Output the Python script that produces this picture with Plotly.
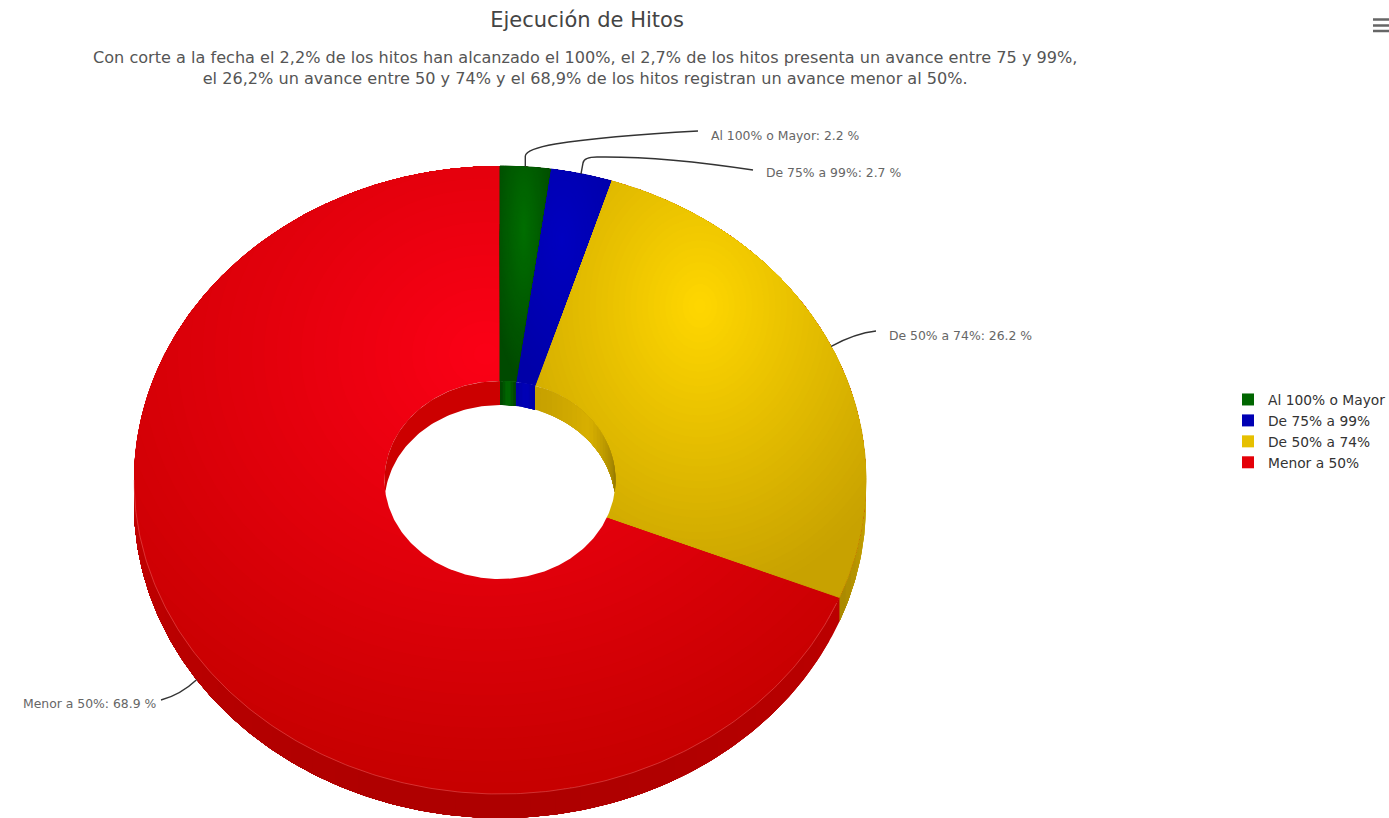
#!/usr/bin/env python3
# -*- coding: utf-8 -*-
"""Ejecucion de Hitos - 3D style donut built from elliptical polygons"""

import numpy as np
import plotly.graph_objects as go

# Data
categories = ["Al 100% o Mayor", "De 75% a 99%", "De 50% a 74%", "Menor a 50%"]
values = [2.2, 2.7, 26.2, 68.9]

title_text = "Ejecución de Hitos"
subtitle_text = (
    "Con corte a la fecha el 2,2% de los hitos han alcanzado el 100%, el 2,7% de los hitos "
    "presenta un avance entre 75 y 99%,<br>el 26,2% un avance entre 50 y 74% y el 68,9% de "
    "los hitos registran un avance menor al 50%."
)

# Colours per slice: gradient start, gradient end, legend swatch
grad_start = ["#006e00", "#0000c0", "#ffd700", "#fb0016"]
grad_end = ["#004a00", "#0000a8", "#c8a200", "#c60000"]
legend_colors = ["#006600", "#0000b4", "#e6c000", "#e40008"]

# Geometry of the donut on the pixel axes
CX, CY = 500.0, 480.0
RX, RY = 366.0, 314.0
HOLE_RX, HOLE_RY = 115.5, 99.0
DEPTH = 24.0
LEVELS = 40

# Where each connector label sits
label_pos = [(709, 135, "left"), (764, 172, "left"), (887, 335, "left"), (158, 703, "right")]


def hex_mix(c0, c1, t):
    a = [int(c0[i:i + 2], 16) for i in (1, 3, 5)]
    b = [int(c1[i:i + 2], 16) for i in (1, 3, 5)]
    return "rgb(%d,%d,%d)" % tuple(round(p + (q - p) * t) for p, q in zip(a, b))


def on_ellipse(theta, rx, ry, dy=0.0):
    # theta is clockwise from 12 o'clock
    return CX + rx * np.sin(theta), CY - ry * np.cos(theta) + dy


def add_poly(fig, x, y, color, width=0.0):
    fig.add_trace(go.Scatter(
        x=x, y=y, mode="lines", fill="toself", fillcolor=color,
        line=dict(width=width, color=color), hoverinfo="skip", showlegend=False
    ))


def radial_layers(fig, px, py, hx, hy, gx, gy, c0, c1, edge=0.0):
    # Contours of an elliptical gradient clipped to a shape that is star shaped around (hx, hy)
    ang = np.arctan2(py - hy, px - hx)
    dist = np.hypot(px - hx, py - hy)
    order = np.argsort(ang)
    phi = np.linspace(-np.pi, np.pi, 721)
    bound = np.interp(phi, ang[order], dist[order], period=2 * np.pi)
    unit = np.sqrt((np.cos(phi) / gx) ** 2 + (np.sin(phi) / gy) ** 2)
    add_poly(fig, px, py, hex_mix(c0, c1, 1.0), width=edge)
    for k in range(LEVELS, 0, -1):
        t = k / LEVELS
        r = np.minimum(t / unit, bound)
        add_poly(fig, hx + r * np.cos(phi), hy + r * np.sin(phi), hex_mix(c0, c1, (k - 0.5) / LEVELS))


def slice_outline(a0, a1):
    # Pie wedge with dense samples along all edges, so it can be read in polar form
    th = np.linspace(a0, a1, max(int((a1 - a0) * 90), 12))
    ox, oy = on_ellipse(th, RX, RY)
    s = np.linspace(0, 1, 60)
    rx1, ry1 = CX + (ox[-1] - CX) * (1 - s), CY + (oy[-1] - CY) * (1 - s)
    rx0, ry0 = CX + (ox[0] - CX) * s, CY + (oy[0] - CY) * s
    return np.concatenate([rx0, ox, rx1]), np.concatenate([ry0, oy, ry1])


def outer_segment(a0, a1, color):
    t = np.linspace(a0, a1, max(int((a1 - a0) * 120), 12))
    x, y = on_ellipse(t, RX, RY)
    add_poly(fig, np.r_[x, x[::-1]], np.r_[y, y[::-1] + DEPTH], color)


def inner_segment(a0, a1, color):
    t = np.linspace(a0, a1, 60)
    x, y = on_ellipse(t, HOLE_RX, HOLE_RY)
    low = CY + HOLE_RY * np.sqrt(np.clip(1 - ((x - CX) / HOLE_RX) ** 2, 0, 1))
    y2 = np.minimum(y + DEPTH, low)
    add_poly(fig, np.r_[x, x[::-1]], np.r_[y, y2[::-1]], color)


fractions = np.array(values) / sum(values)
edges = np.concatenate([[0.0], np.cumsum(fractions)]) * 2 * np.pi
mids = (edges[:-1] + edges[1:]) / 2

fig = go.Figure()

# Outer wall, only the part that faces the viewer. Every band runs on to the end of its
# slice and the next one paints over it, that way no seams show between the bands
yellow_steps = np.linspace(np.pi / 2, edges[3], 9)
for k in range(8):
    outer_segment(yellow_steps[k], edges[3], hex_mix("#c9a500", "#ab8a00", k / 7))

red_steps = np.linspace(edges[3], 3 * np.pi / 2, 41)
for k in range(40):
    mid = (red_steps[k] + red_steps[k + 1]) / 2
    shade = abs(np.cos(mid))  # darkest where the wall faces straight down
    outer_segment(red_steps[k], 3 * np.pi / 2, hex_mix("#c40000", "#ae0000", shade))

# Top surface. Red first because the whole ellipse can be used: the other slices sit over it
th = np.linspace(0, 2 * np.pi, 720, endpoint=False)
ex, ey = on_ellipse(th, RX, RY)
radial_layers(fig, ex, ey, 486, 354, 493, 440, grad_start[3], grad_end[3])

for i, (hx, gx, hy, gy) in zip((2, 1, 0), [(700, 232, 306, 292), (562, 66, 240, 150), (524, 34, 230, 150)]):
    px, py = slice_outline(edges[i], edges[i + 1])
    radial_layers(fig, px, py, hx, hy, gx, gy, grad_start[i], grad_end[i], edge=1.0)

# Faint rim where the top surface meets the red wall
rim = np.linspace(edges[3] + 0.02, 3 * np.pi / 2, 240)
rim_x, rim_y = on_ellipse(rim, RX, RY)
fig.add_trace(go.Scatter(
    x=rim_x, y=rim_y, mode="lines", line=dict(color="rgba(245,130,130,0.55)", width=0.7),
    hoverinfo="skip", showlegend=False
))

# Hole
th = np.linspace(0, 2 * np.pi, 360)
hx_arr, hy_arr = on_ellipse(th, HOLE_RX, HOLE_RY)
add_poly(fig, hx_arr, hy_arr, "#ffffff")

# Inner wall, seen through the upper half of the hole
inner_segment(-np.pi / 2, 0.0, "#cc0000")

inner_wall = {0: ("#004800", "#006c00"), 1: ("#0000a8", "#0000b8")}
for i in (0, 1):
    add = (edges[i + 1] - edges[i]) / 6
    for k in range(6):
        shade = 1 - abs(k - 2.5) / 2.5
        inner_segment(edges[i] + k * add, edges[i + 1], hex_mix(inner_wall[i][0], inner_wall[i][1], shade))

# Yellow wall goes dark towards the right end
n_seg = 24
yellow_top = np.linspace(edges[2], np.pi / 2, n_seg + 1)
for k in range(n_seg):
    t = k / (n_seg - 1)
    col = hex_mix("#c6a000", "#d8b000", t / 0.45) if t < 0.45 else hex_mix("#d8b000", "#8f7400", (t - 0.45) / 0.55)
    inner_segment(yellow_top[k], np.pi / 2, col)

# Legend entries
for name, color in zip(categories, legend_colors):
    fig.add_trace(go.Scatter(
        x=[None], y=[None], mode="markers", name=name,
        marker=dict(symbol="square", size=14, color=color)
    ))

# Connectors
connector_paths = []
ax, ay = on_ellipse(mids[0], RX, RY)
connector_paths.append(f"M{ax:.1f},{ay:.1f} L{ax:.1f},156 Q{ax + 1:.1f},149 {ax + 30:.1f},144 Q{ax + 80:.1f},136 698,131")
ax, ay = on_ellipse(mids[1], RX, RY)
connector_paths.append(f"M{ax:.1f},{ay:.1f} L{ax + 2:.1f},163 Q{ax + 3:.1f},157 {ax + 16:.1f},157 Q{ax + 80:.1f},156 753,170")
ax, ay = on_ellipse(mids[2], RX, RY)
connector_paths.append(f"M{ax:.1f},{ay:.1f} Q{ax + 24:.1f},{ay - 13:.1f} 876,331")
ax, ay = on_ellipse(mids[3], RX, RY, DEPTH)
connector_paths.append(f"M{ax:.1f},{ay:.1f} Q{ax - 16:.1f},{ay + 15:.1f} 161,700")

shapes = [
    dict(type="path", path=p, line=dict(color="#333333", width=1.4), xref="x", yref="y")
    for p in connector_paths
]

# Export menu icon
for bar_y in (19.5, 25.5, 31.0):
    shapes.append(dict(type="line", x0=1373, x1=1389, y0=bar_y, y1=bar_y,
                       line=dict(color="#666666", width=2.5), xref="x", yref="y"))

annotations = [
    dict(text=subtitle_text, x=584.5, y=67.5, xref="x", yref="y", showarrow=False,
         font=dict(family="DejaVu Sans", size=16.1, color="#555555"), align="center")
]
for name, val, (lx, ly, side) in zip(categories, values, label_pos):
    annotations.append(dict(
        text=f"{name}: {val} %", x=lx, y=ly, xref="x", yref="y", showarrow=False,
        xanchor=side, font=dict(family="DejaVu Sans", size=12.4, color="#666666")
    ))

fig.update_layout(
    title=dict(text=title_text, x=587 / 1389, xanchor="center", y=1 - 20 / 818, yanchor="middle",
               font=dict(family="DejaVu Sans", size=21, color="#444444")),
    xaxis=dict(range=[0, 1389], visible=False, fixedrange=True),
    yaxis=dict(range=[818, 0], visible=False, fixedrange=True),
    margin=dict(l=0, r=0, t=0, b=0, autoexpand=False),
    width=1389,
    height=818,
    paper_bgcolor="white",
    plot_bgcolor="white",
    shapes=shapes,
    annotations=annotations,
    legend=dict(x=1228 / 1389, xanchor="left", y=1 - 384 / 818, yanchor="top",
                font=dict(family="DejaVu Sans", size=13.8, color="#333333"),
                itemsizing="constant", bgcolor="rgba(0,0,0,0)"),
    hovermode=False,
)

fig.write_html("out.html", config=dict(displayModeBar=False),
               post_script="document.body.style.margin='0';")
